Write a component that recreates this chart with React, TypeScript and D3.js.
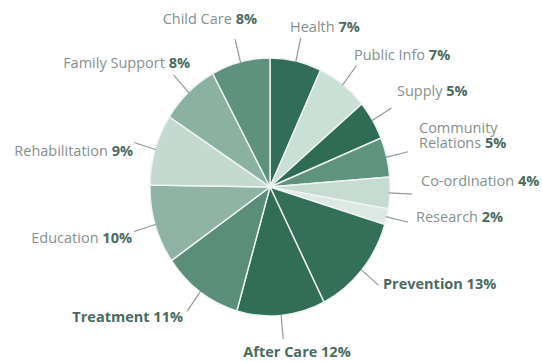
import React from "react";
import * as d3 from "d3";

const categories = [
  "Health", "Public Info", "Supply", "Community Relations", "Co-ordination",
  "Research", "Prevention", "After Care", "Treatment", "Education",
  "Rehabilitation", "Family Support", "Child Care",
];
const values = [7, 7, 5, 5, 4, 2, 13, 12, 11, 10, 9, 8, 8];
const highlighted = ["Prevention", "After Care", "Treatment"];

const colors = [
  "#316d58", "#cadfd6", "#2f6b55", "#5f927f", "#c6dbd2",
  "#dde9e4", "#346f5a", "#326d58", "#5a8e7b", "#8fb4a6",
  "#c4d9d0", "#8bb1a3", "#5f917f",
];

// label layout: x, baseline y, anchor
const labelLayout: Record<string, { x: number; y: number; anchor: string; lines?: string[] }> = {
  "Health": { x: 290, y: 32, anchor: "start" },
  "Public Info": { x: 354, y: 60, anchor: "start" },
  "Supply": { x: 397, y: 96, anchor: "start" },
  "Community Relations": { x: 419, y: 133, anchor: "start", lines: ["Community", "Relations"] },
  "Co-ordination": { x: 421, y: 186, anchor: "start" },
  "Research": { x: 416, y: 222, anchor: "start" },
  "Prevention": { x: 383, y: 289, anchor: "start" },
  "After Care": { x: 297, y: 357, anchor: "middle" },
  "Treatment": { x: 183, y: 322, anchor: "end" },
  "Education": { x: 132, y: 243, anchor: "end" },
  "Rehabilitation": { x: 133, y: 156, anchor: "end" },
  "Family Support": { x: 190, y: 68, anchor: "end" },
  "Child Care": { x: 257, y: 24, anchor: "end" },
};

const W = 542;
const H = 362;
const cx = 270;
const cy = 187;
const R = 120;
const sy = 1.075;
const lineGap = 14.5;

export default function App() {
  const data = categories.map((c, i) => ({ name: c, value: values[i], color: colors[i] }));
  const pie = d3.pie<any>().sort(null).value((d) => d.value);
  const arcs = pie(data);
  const arcGen = d3.arc<any>().innerRadius(0).outerRadius(R);

  const polar = (a: number, r: number) => [cx + Math.sin(a) * r, cy - Math.cos(a) * r * sy];

  return (
    <svg width={W} height={H} style={{ position: "absolute", left: 0, top: 0, background: "#fff" }}
      fontFamily="'Open Sans', sans-serif">
      <g transform={`translate(${cx},${cy}) scale(1,${sy})`}>
        {arcs.map((a, i) => (
          <path key={i} d={arcGen(a) as string} fill={a.data.color} stroke="#eef4f1" strokeWidth={1.4} />
        ))}
      </g>
      {arcs.map((a, i) => {
        const mid = (a.startAngle + a.endAngle) / 2;
        const [x1, y1] = polar(mid, R - 1);
        const [x2, y2] = polar(mid, R + 22);
        return <line key={"l" + i} x1={x1} y1={y1} x2={x2} y2={y2} stroke="#8f9c97" strokeWidth={1.2} />;
      })}
      {arcs.map((a, i) => {
        const name = a.data.name;
        const L = labelLayout[name];
        const hi = highlighted.includes(name);
        const pct = `${a.data.value}%`;
        const lines = L.lines || [name];
        return (
          <g key={"t" + i}>
            {lines.map((ln, j) => (
              <text key={j} x={L.x} y={L.y + j * lineGap} textAnchor={L.anchor} fontSize={14.5}
                fill={hi ? "#4a6b60" : "#85918d"} fontWeight={hi ? 700 : 400}>
                {ln}
                {j === lines.length - 1 ? (
                  <tspan fontWeight={700} fill="#4a6b60">{" " + pct}</tspan>
                ) : null}
              </text>
            ))}
          </g>
        );
      })}
    </svg>
  );
}
